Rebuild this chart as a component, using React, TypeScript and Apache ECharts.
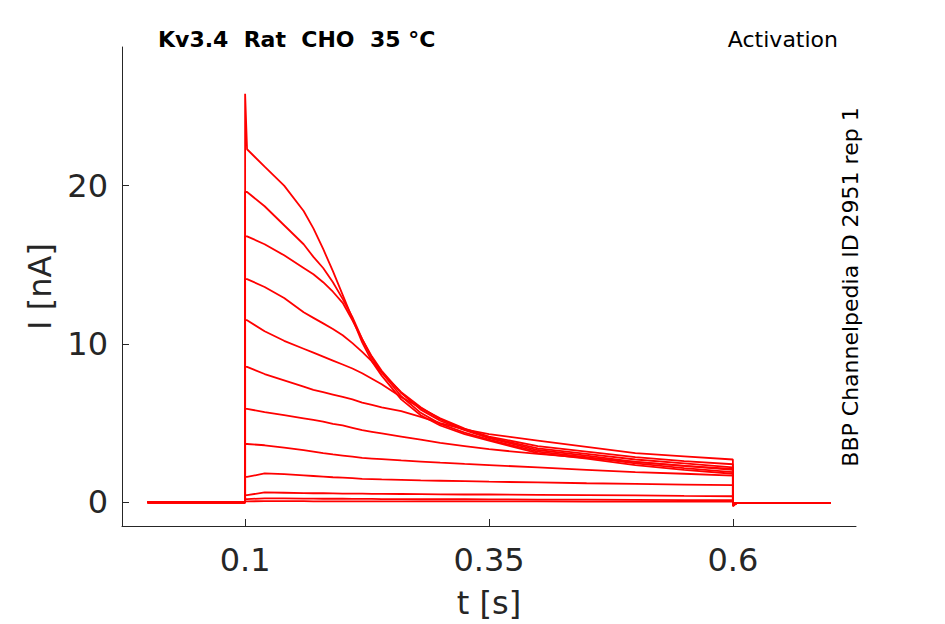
import React, { useEffect, useRef } from "react";
import * as echarts from "echarts";

// time samples during the pulse (s)
const T = [0.102, 0.12, 0.14, 0.16, 0.17, 0.18, 0.19, 0.2, 0.21, 0.22, 0.23, 0.24, 0.26, 0.28, 0.3, 0.325, 0.35, 0.4, 0.45, 0.5, 0.55, 0.6];

// current traces (nA), one per voltage step
const TR_A = [22.3, 21.2, 20.0, 18.4, 17.3, 16.0, 14.6, 13.1, 11.6, 10.1, 8.9, 8.0, 6.5, 5.5, 4.85, 4.3, 3.9, 3.1, 2.75, 2.35, 2.05, 1.8];
const TR_B = [19.6, 18.7, 17.5, 16.3, 15.5, 14.8, 13.9, 12.85, 11.7, 10.3, 9.1, 8.2, 6.7, 5.65, 4.95, 4.4, 3.95, 3.2, 2.85, 2.45, 2.15, 1.9];
const TR_C = [16.8, 16.3, 15.6, 14.8, 14.4, 13.9, 13.3, 12.6, 11.5, 10.3, 9.2, 8.3, 6.9, 5.85, 5.15, 4.55, 4.05, 3.3, 2.95, 2.55, 2.3, 2.05];
const TR_D = [14.1, 13.6, 12.9, 12.0, 11.65, 11.3, 10.95, 10.55, 10.05, 9.5, 8.9, 8.2, 6.95, 6.0, 5.25, 4.6, 4.1, 3.4, 3.05, 2.7, 2.45, 2.2];
const TR_E = [11.5, 10.8, 10.2, 9.7, 9.45, 9.2, 8.95, 8.7, 8.45, 8.15, 7.8, 7.45, 6.65, 5.95, 5.3, 4.65, 4.15, 3.55, 3.2, 2.85, 2.6, 2.4];
const TR_F = [8.55, 8.1, 7.7, 7.3, 7.1, 6.95, 6.8, 6.65, 6.5, 6.3, 6.15, 6.0, 5.75, 5.4, 5.0, 4.6, 4.3, 3.9, 3.5, 3.1, 2.9, 2.7];
const TR_G = [5.9, 5.7, 5.5, 5.3, 5.2, 5.1, 4.95, 4.85, 4.7, 4.55, 4.45, 4.35, 4.15, 3.95, 3.75, 3.55, 3.35, 3.05, 2.8, 2.55, 2.3, 2.1];
const TR_H = [3.68, 3.6, 3.45, 3.3, 3.2, 3.1, 3.02, 2.95, 2.88, 2.8, 2.76, 2.72, 2.64, 2.57, 2.5, 2.42, 2.35, 2.2, 2.05, 1.9, 1.8, 1.68];
const TR_I = [1.6, 1.82, 1.78, 1.7, 1.66, 1.62, 1.58, 1.55, 1.52, 1.48, 1.46, 1.44, 1.41, 1.38, 1.36, 1.33, 1.3, 1.25, 1.2, 1.16, 1.12, 1.08];
const TR_J = [0.45, 0.62, 0.6, 0.58, 0.57, 0.57, 0.56, 0.55, 0.55, 0.54, 0.53, 0.53, 0.52, 0.51, 0.5, 0.49, 0.49, 0.47, 0.45, 0.43, 0.4, 0.38];
const TR_K = [0.2, 0.25, 0.24, 0.23, 0.23, 0.22, 0.22, 0.22, 0.21, 0.21, 0.21, 0.2, 0.2, 0.19, 0.19, 0.19, 0.18, 0.17, 0.16, 0.15, 0.14, 0.13];
const TR_L = [0.06, 0.07, 0.07, 0.07, 0.06, 0.06, 0.06, 0.06, 0.06, 0.06, 0.05, 0.05, 0.05, 0.05, 0.05, 0.05, 0.05, 0.05, 0.04, 0.04, 0.04, 0.04];

const TRACES = [TR_A, TR_B, TR_C, TR_D, TR_E, TR_F, TR_G, TR_H, TR_I, TR_J, TR_K, TR_L];
// transient peak at pulse onset (only the largest step)
const ONSET_PEAK = [25.8, null, null, null, null, null, null, null, null, null, null, null];
// undershoot right after the pulse
const TAIL_DIP = [-0.25, -0.2, -0.2, -0.15, -0.15, -0.1, -0.1, -0.08, -0.06, -0.05, -0.05, -0.05];

const T_START = 0;
const T_ON = 0.1;
const T_OFF = 0.6;
const T_END = 0.7;
const PRE = 0;
const POST = -0.05;

const X_TICKS = [0.1, 0.35, 0.6];
const Y_TICKS = [0, 10, 20];

const FONT = "DejaVu Sans";
const AX = "#262626";

export default function App() {
  const ref = useRef<HTMLDivElement>(null);
  useEffect(() => {
    if (!ref.current) return;
    const chart = echarts.init(ref.current, null, { renderer: "svg" });
    const series = TRACES.map((tr, k) => {
      const data: any[] = [[T_START, PRE], [T_ON, PRE]];
      if (ONSET_PEAK[k] != null) data.push([T_ON, ONSET_PEAK[k]]);
      else data.push([T_ON, tr[0]]);
      T.forEach((t, i) => data.push([t, tr[i]]));
      data.push([T_OFF, TAIL_DIP[k]]);
      data.push([T_OFF + 0.004, POST]);
      data.push([T_END, POST]);
      return {
        type: "line",
        data,
        showSymbol: false,
        symbol: "none",
        lineStyle: { color: "#ff0000", width: 1.8 },
        itemStyle: { color: "#ff0000" },
        silent: true,
        z: 2,
      };
    });
    chart.setOption({
      animation: false,
      backgroundColor: "#ffffff",
      grid: { left: 122, top: 47, right: 89, bottom: 98, containLabel: false, outerBoundsMode: "none" },
      xAxis: {
        type: "value",
        min: -0.0262,
        max: 0.7262,
        splitLine: { show: false },
        axisLine: { show: true, onZero: false, lineStyle: { color: AX, width: 1 } },
        axisTick: { show: true, inside: true, length: 7, customValues: X_TICKS, lineStyle: { color: AX } },
        axisLabel: {
          customValues: X_TICKS,
          formatter: (v: number) => String(v),
          fontSize: 32,
          fontFamily: FONT,
          color: AX,
          margin: 18,
        },
        name: "t [s]",
        nameLocation: "middle",
        nameGap: 61,
        nameTextStyle: { fontSize: 32, fontFamily: FONT, color: AX },
      },
      yAxis: {
        type: "value",
        min: -1.5,
        max: 28.76,
        splitLine: { show: false },
        axisLine: { show: true, onZero: false, lineStyle: { color: AX, width: 1 } },
        axisTick: { show: true, inside: true, length: 7, customValues: Y_TICKS, lineStyle: { color: AX } },
        axisLabel: {
          customValues: Y_TICKS,
          formatter: (v: number) => String(v),
          fontSize: 32,
          fontFamily: FONT,
          color: AX,
          margin: 14,
        },
        name: "I [nA]",
        nameLocation: "middle",
        nameGap: 66,
        nameTextStyle: { fontSize: 32, fontFamily: FONT, color: AX },
      },
      graphic: [
        {
          type: "text",
          x: 158,
          y: 39,
          style: {
            text: "Kv3.4  Rat  CHO  35 °C",
            font: `bold 22px '${FONT}'`,
            fill: "#000",
            textAlign: "left",
            textVerticalAlign: "middle",
          },
        },
        {
          type: "text",
          x: 838,
          y: 39,
          style: {
            text: "Activation",
            font: `22px '${FONT}'`,
            fill: "#000",
            textAlign: "right",
            textVerticalAlign: "middle",
          },
        },
        {
          type: "text",
          x: 850,
          y: 287,
          rotation: Math.PI / 2,
          style: {
            text: "BBP Channelpedia ID 2951 rep 1",
            font: `22px '${FONT}'`,
            fill: "#000",
            textAlign: "center",
            textVerticalAlign: "middle",
          },
        },
      ],
      series,
    });
    return () => chart.dispose();
  }, []);
  return <div ref={ref} style={{ position: "fixed", left: 0, top: 0, width: 945, height: 624, background: "#fff" }} />;
}
